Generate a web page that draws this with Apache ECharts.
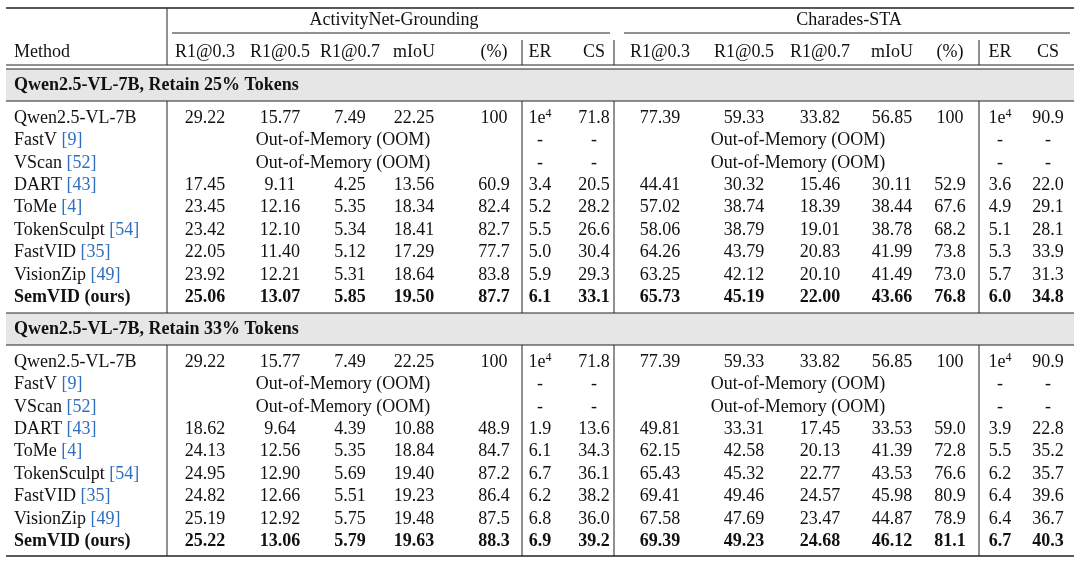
<!DOCTYPE html>
<html><head><meta charset="utf-8">
<script src="https://cdn.jsdelivr.net/npm/echarts@6/dist/echarts.min.js"></script>
<style>html,body{margin:0;padding:0;background:#fff}#c{width:1080px;height:561px}</style>
</head><body><div id="c"></div>
<script>
const colHeaders = ['R1@0.3','R1@0.5','R1@0.7','mIoU','(%)','ER','CS'];
const groups = ['ActivityNet-Grounding','Charades-STA'];
const sections = ['Qwen2.5-VL-7B, Retain 25% Tokens','Qwen2.5-VL-7B, Retain 33% Tokens'];
const methods = ['Qwen2.5-VL-7B','FastV','VScan','DART','ToMe','TokenSculpt','FastVID','VisionZip','SemVID (ours)'];
const cites = ['','9','52','43','4','54','35','49',''];
const OOM = 'OOM';
const anet25 = [
 ['29.22','15.77','7.49','22.25','100','1e4','71.8'], OOM, OOM,
 ['17.45','9.11','4.25','13.56','60.9','3.4','20.5'],
 ['23.45','12.16','5.35','18.34','82.4','5.2','28.2'],
 ['23.42','12.10','5.34','18.41','82.7','5.5','26.6'],
 ['22.05','11.40','5.12','17.29','77.7','5.0','30.4'],
 ['23.92','12.21','5.31','18.64','83.8','5.9','29.3'],
 ['25.06','13.07','5.85','19.50','87.7','6.1','33.1']];
const cha25 = [
 ['77.39','59.33','33.82','56.85','100','1e4','90.9'], OOM, OOM,
 ['44.41','30.32','15.46','30.11','52.9','3.6','22.0'],
 ['57.02','38.74','18.39','38.44','67.6','4.9','29.1'],
 ['58.06','38.79','19.01','38.78','68.2','5.1','28.1'],
 ['64.26','43.79','20.83','41.99','73.8','5.3','33.9'],
 ['63.25','42.12','20.10','41.49','73.0','5.7','31.3'],
 ['65.73','45.19','22.00','43.66','76.8','6.0','34.8']];
const anet33 = [
 ['29.22','15.77','7.49','22.25','100','1e4','71.8'], OOM, OOM,
 ['18.62','9.64','4.39','10.88','48.9','1.9','13.6'],
 ['24.13','12.56','5.35','18.84','84.7','6.1','34.3'],
 ['24.95','12.90','5.69','19.40','87.2','6.7','36.1'],
 ['24.82','12.66','5.51','19.23','86.4','6.2','38.2'],
 ['25.19','12.92','5.75','19.48','87.5','6.8','36.0'],
 ['25.22','13.06','5.79','19.63','88.3','6.9','39.2']];
const cha33 = [
 ['77.39','59.33','33.82','56.85','100','1e4','90.9'], OOM, OOM,
 ['49.81','33.31','17.45','33.53','59.0','3.9','22.8'],
 ['62.15','42.58','20.13','41.39','72.8','5.5','35.2'],
 ['65.43','45.32','22.77','43.53','76.6','6.2','35.7'],
 ['69.41','49.46','24.57','45.98','80.9','6.4','39.6'],
 ['67.58','47.69','23.47','44.87','78.9','6.4','36.7'],
 ['69.39','49.23','24.68','46.12','81.1','6.7','40.3']];

const FONT = '"Liberation Serif", serif';
const FS = 18;
const colX = [[205,280,350,414,494,540,594],[660,744,820,892,950,1000,1048]];
const oomX = [343,798];
const sectionY = [[69,101],[313,345]];
const rowStart = [118,362], rowStep = 22.4;
const g = [];
function txt(x,y,t,align,bold,rich){
  g.push({type:'text',x:x,y:y,style:{text:t,x:0,y:0,align:align||'center',verticalAlign:'middle',
    font:(bold?'bold ':'')+FS+'px '+FONT,fill:'#111',rich:rich}});
}
function line(x1,y1,x2,y2,w){g.push({type:'line',shape:{x1,y1,x2,y2},style:{stroke:'#222',lineWidth:w||1}});}
const richNum = b=>({n:{font:(b?'bold ':'')+FS+'px '+FONT,fill:'#111'},s:{font:(b?'bold ':'')+'12px '+FONT,fill:'#111',padding:[0,0,9,0]},
   c:{font:FS+'px '+FONT,fill:'#2f6fc0'}});
// rules
line(6,8,1074,8,1.5);
line(6,65,1074,65,1);
line(6,556,1074,556,1.5);
line(167,8,167,65); line(522,40,522,65); line(614,40,614,65); line(979,40,979,65);
line(172,33,610,33); line(624,33,1070,33);
txt(394,20,groups[0]); txt(849,20,groups[1]);
txt(14,52,'Method','left');
colHeaders.forEach((h,i)=>{txt(colX[0][i],52,h); txt(colX[1][i],52,h);});
const data = [[anet25,cha25],[anet33,cha33]];
sections.forEach((s,si)=>{
  const [y0,y1]=sectionY[si];
  g.push({type:'rect',shape:{x:6,y:y0,width:1068,height:y1-y0},style:{fill:'#e6e6e6'}});
  line(6,y0,1074,y0,1); line(6,y1,1074,y1,1);
  txt(14,(y0+y1)/2,s,'left',true);
  const top=y1, bot=si===0?sectionY[1][0]:556;
  [167,522,614,979].forEach(x=>line(x,top,x,bot));
  methods.forEach((m,r)=>{
    const y=rowStart[si]+r*rowStep, bold=r===methods.length-1;
    const label = cites[r]? '{n|'+m+'} {c|['+cites[r]+']}' : '{n|'+m+'}';
    txt(14,y,label,'left',bold,richNum(bold));
    data[si].forEach((arr,gi)=>{
      const row=arr[r];
      if(row===OOM){ txt(oomX[gi],y,'Out-of-Memory (OOM)'); txt(colX[gi][5],y,'-'); txt(colX[gi][6],y,'-'); return; }
      row.forEach((v,ci)=>{
        const t = v==='1e4' ? '{n|1}{n|e}{s|4}' : '{n|'+v+'}';
        txt(colX[gi][ci],y,t,'center',bold,richNum(bold));
      });
    });
  });
});
const chart = echarts.init(document.getElementById('c'));
chart.setOption({animation:false,graphic:g});
</script></body></html>
